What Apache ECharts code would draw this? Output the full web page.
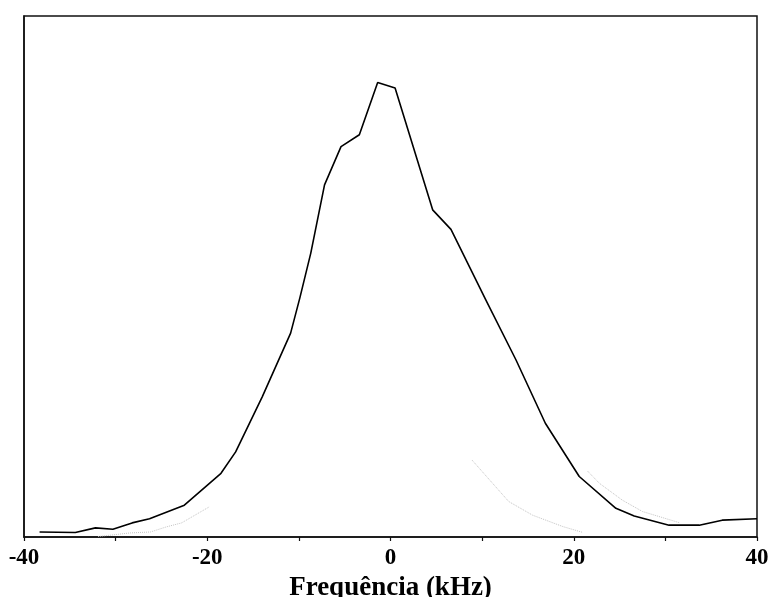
<!DOCTYPE html>
<html>
<head>
<meta charset="utf-8">
<script src="https://cdn.jsdelivr.net/npm/echarts@6/dist/echarts.min.js"></script>
<style>html,body{margin:0;padding:0;background:#fff;}#c{width:776px;height:597px;}</style>
</head>
<body>
<div id="c"></div>
<script>
// Frequency (kHz) and intensity (a.u., peak ~100) of the measured spectrum
var freq = [-38.3, -34.4, -32.2, -30.3, -28.2, -26.3, -22.5, -18.5, -16.9, -14.0, -10.9, -9.9, -8.7, -7.2, -5.4, -3.4, -1.4, 0.5, 4.6, 6.6, 10.4, 13.7, 16.9, 20.6, 24.6, 26.6, 30.4, 33.7, 36.2, 40];
var intensity = [1.1, 1.0, 2.0, 1.7, 3.1, 4.0, 7.0, 14.0, 18.7, 30.8, 44.8, 52.5, 62.4, 77.4, 85.8, 88.4, 99.9, 98.7, 71.9, 67.6, 52.1, 38.9, 25.0, 13.3, 6.3, 4.6, 2.6, 2.6, 3.7, 4.0];

// Faint fitted components (visible parts only)
var compLeftX = [-31.9, -28.4, -26.2, -24.5, -22.8, -19.8];
var compLeftY = [0.1, 0.9, 1.1, 2.2, 3.1, 6.6];
var compMidX = [8.9, 12.9, 15.5, 18.8, 21.0];
var compMidY = [16.9, 7.8, 4.8, 2.3, 1.0];
var compRightX = [21.5, 22.8, 25.3, 27.5, 31.6];
var compRightY = [14.5, 11.8, 8.1, 5.6, 3.1];

// Tick labels shown on the frequency axis
var tickLabels = [-40, -20, 0, 20, 40];

function pairs(xs, ys) { return xs.map(function (x, i) { return [x, ys[i]]; }); }

var chart = echarts.init(document.getElementById('c'));
var faint = { color: '#c4c4c4', width: 1, type: 'dotted' };
chart.setOption({
  animation: false,
  backgroundColor: '#fff',
  grid: { left: 24, right: 19, top: 16, bottom: 60, containLabel: false, outerBoundsMode: 'none', show: true, borderColor: '#111', borderWidth: 1.5, backgroundColor: 'transparent' },
  xAxis: {
    type: 'value', min: -40, max: 40, interval: 10,
    name: 'Frequência (kHz)', nameLocation: 'middle', nameGap: 34,
    nameTextStyle: { fontFamily: 'Liberation Serif', fontWeight: 'bold', fontSize: 27, color: '#000' },
    axisLine: { show: true, onZero: false, lineStyle: { color: '#111', width: 1.5 } },
    axisTick: { show: true, inside: false, length: 4, lineStyle: { color: '#111', width: 1.2 } },
    splitLine: { show: false },
    axisLabel: {
      show: true, margin: 10, showMinLabel: true, showMaxLabel: true,
      fontFamily: 'Liberation Serif', fontWeight: 'bold', fontSize: 23, color: '#000',
      formatter: function (v) { return tickLabels.indexOf(v) >= 0 ? String(v) : ''; }
    }
  },
  yAxis: {
    type: 'value', min: 0, max: 114.5, position: 'left',
    axisLine: { show: true, onZero: false, lineStyle: { color: '#111', width: 1.5 } },
    axisTick: { show: false }, axisLabel: { show: false }, splitLine: { show: false }
  },
  series: [
    { type: 'line', data: pairs(compLeftX, compLeftY), showSymbol: false, lineStyle: faint, silent: true },
    { type: 'line', data: pairs(compMidX, compMidY), showSymbol: false, lineStyle: faint, silent: true },
    { type: 'line', data: pairs(compRightX, compRightY), showSymbol: false, lineStyle: faint, silent: true },
    { type: 'line', data: pairs(freq, intensity), showSymbol: false, lineStyle: { color: '#000', width: 1.6 }, z: 5 }
  ]
});
</script>
</body>
</html>
